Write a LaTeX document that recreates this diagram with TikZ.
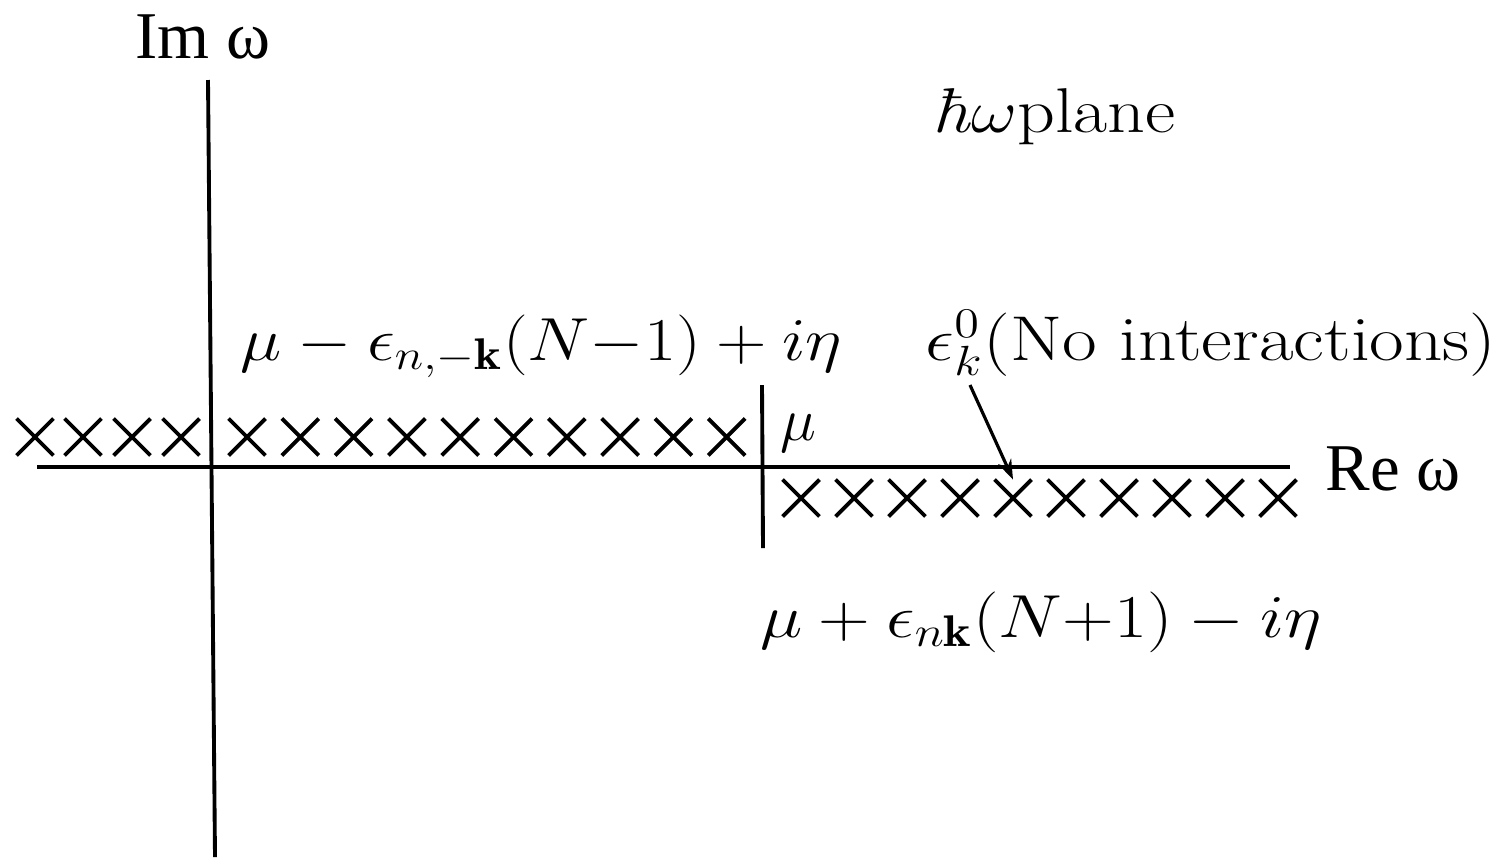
\documentclass[tikz,border=0pt]{standalone}
\usepackage{fontspec}
\newfontfamily\tnr{Liberation Serif}
\usetikzlibrary{shapes.misc,arrows.meta}
\begin{document}
\begin{tikzpicture}[x=0.01cm,y=-0.01cm,
  axis/.style={line width=1.1pt},
  xmark/.style={cross out,draw,line width=1.1pt,minimum size=0.33cm,inner sep=0pt},
  axlabel/.style={font={\tnr\fontsize{19}{19}\selectfont},inner sep=0pt,anchor=base west},
  mlabel/.style={font={\fontsize{18}{18}\selectfont},inner sep=0pt,anchor=base west},
  pointer/.style={line width=0.9pt,-{Stealth[length=0.2cm,width=0.14cm]}}]
\useasboundingbox (0,0) rectangle (1503,857);
% axes
\coordinate (vtop) at (208,80);
\coordinate (vbot) at (215,857);
\coordinate (hl) at (37,467);
\coordinate (hr) at (1290,467);
\draw[axis] (vtop) -- (vbot);
\draw[axis] (hl) -- (hr);
\coordinate (mtop) at (762,385);
\coordinate (mbot) at (763,548);
\draw[axis] (mtop) -- (mbot);
% poles
\foreach \xx [count=\n] in {35,83,132,181} \node[xmark] (tl\n) at (\xx,437) {};
\foreach \n in {1,...,10} \node[xmark] (tr\n) at ({247+(\n-1)*53.3},437) {};
\foreach \n in {1,...,10} \node[xmark] (b\n) at ({801+(\n-1)*53},498) {};
% labels
\node[axlabel] (im) at (135,58) {Im ω};
\node[axlabel] (re) at (1325,490) {\tnr Re ω};
\node[mlabel] (plane) at (932,132) {\scalebox{1.17}[1]{\textit{ħ}$\omega$plane}};
\node[mlabel] (lab1) at (240,360) {\scalebox{1.15}[1]{$\mu-\epsilon_{n,-\mathbf{k}}(N{-}1)+i\eta$}};
\node[mlabel] (lab0) at (925,360) {\scalebox{1.19}[1]{$\epsilon^0_k$(No interactions)}};
\node[mlabel] (mu) at (780,440) {$\mu$};
\node[mlabel] (lab2) at (760,637) {\scalebox{1.18}[1]{$\mu+\epsilon_{n\mathbf{k}}(N{+}1)-i\eta$}};
% pointer
\coordinate (ptail) at (970,385);
\draw[pointer] (ptail) -- (b5.north);
\end{tikzpicture}
\end{document}
